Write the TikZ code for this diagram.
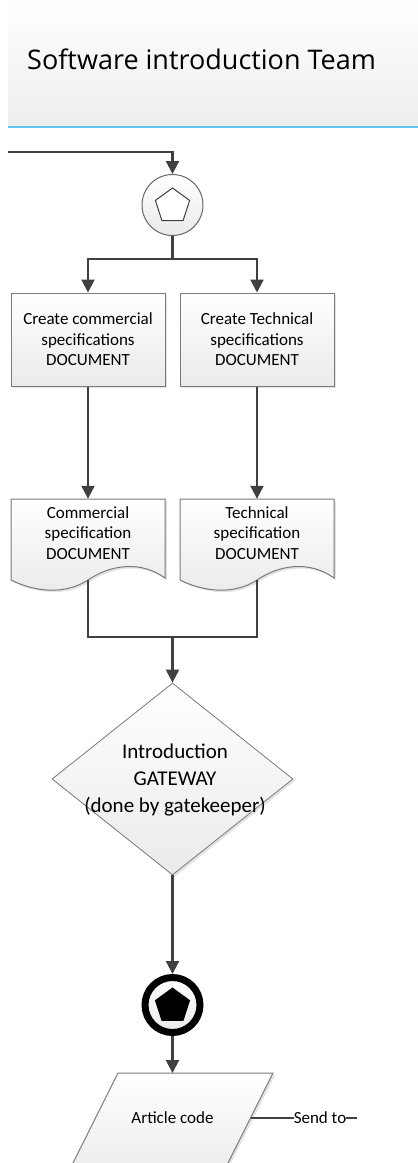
\documentclass[tikz,border=0pt]{standalone}
\usepackage{fontspec}
\setmainfont{Carlito}
\newfontfamily\headfont{Open Sans}
\usetikzlibrary{arrows.meta,shapes.geometric,shadows}
\definecolor{flow}{HTML}{404040}
\definecolor{edge}{HTML}{7A7A7A}
\definecolor{shadeend}{HTML}{EAEAEA}
\definecolor{lane}{HTML}{62C4EE}
\tikzset{
  conn/.style={draw=flow, line width=2.2pt},
  arr/.style={conn, -{Triangle[length=13pt,width=13pt]}},
  softshadow/.style={drop shadow={opacity=0.22, shadow xshift=2pt, shadow yshift=-2pt}},
  boxfill/.style={draw=edge, line width=1pt, top color=white, bottom color=shadeend},
  taskbox/.style={boxfill, softshadow, rectangle, minimum width=154pt, minimum height=93pt,
    inner sep=0pt, align=center, font=\fontsize{17}{20.5}\selectfont},
  doctext/.style={align=center, inner sep=0pt, font=\fontsize{17}{20.5}\selectfont},
  docpic/.pic={
    \path[boxfill, softshadow] (-77,-40.5) -- (77,-40.5) -- (77,38.5)
      .. controls (52,20.5) and (22,25.5) .. (0,40.5)
      .. controls (-23,55.5) and (-53,52.5) .. (-77,40.5) -- cycle;
  },
}
\begin{document}
\begin{tikzpicture}[x=1pt, y=-1pt]
\useasboundingbox (0,0) rectangle (418,1163);
\clip (0,0) rectangle (418,1163);

% lane header
\fill[top color=white, bottom color=shadeend!85!white] (8,0) rectangle (418,126);
\draw[lane, line width=2pt] (8,127) -- (418,127);
\node[anchor=base west, inner sep=0pt, font=\headfont\fontsize{27}{32}\selectfont]
  (lanetitle) at (27,69) {Software introduction Team};

% start event
\node[circle, draw=flow!80, line width=1pt, top color=white, bottom color=shadeend,
  minimum size=61pt, inner sep=0pt] (start) at (172.5,205) {};
\node[regular polygon, regular polygon sides=5, draw=flow, line width=1pt, fill=white,
  minimum size=36pt, inner sep=0pt] (startmark) at (172.5,206) {};
\coordinate (incoming) at (8,152);
\draw[arr] (incoming) -| (start.north);

% parallel tasks
\coordinate (split) at (172.5,259);
\node[taskbox] (cbox) at (88,339.5) {Create commercial\\specifications\\DOCUMENT};
\node[taskbox] (tbox) at (257,339.5) {Create Technical\\specifications\\DOCUMENT};
\draw[conn] (start.south) -- (split);
\draw[arr] (split) -| (cbox.north);
\draw[arr] (split) -| (tbox.north);

% resulting documents
\pic at (88,539.5) {docpic};
\pic at (257,539.5) {docpic};
\node[minimum width=154pt, minimum height=81pt, inner sep=0pt] (cdoc) at (88,539.5) {};
\node[minimum width=154pt, minimum height=81pt, inner sep=0pt] (tdoc) at (257,539.5) {};
\node[doctext] (cdoctext) at (88,533) {Commercial\\specification\\DOCUMENT};
\node[doctext] (tdoctext) at (257,533) {Technical\\specification\\DOCUMENT};
\draw[arr] (cbox.south) -- (cdoc.north);
\draw[arr] (tbox.south) -- (tdoc.north);

% merge into gateway
\coordinate (merge) at (172.5,637);
\node[diamond, aspect=1.255, boxfill, softshadow, minimum width=241pt, minimum height=192pt,
  inner sep=0pt, line width=0.8pt] (gate) at (172.5,779) {};
\node[align=center, inner sep=0pt, font=\fontsize{21}{27}\selectfont]
  (gatetext) at (175,780) {Introduction\\GATEWAY\\(done by gatekeeper)};
\draw[conn] (cdoc.south) |- (merge);
\draw[conn] (tdoc.south) |- (merge);
\draw[arr] (merge) -- (gate.north);

% end event
\node[circle, draw=black, line width=7pt, top color=white, bottom color=shadeend,
  minimum size=55pt, inner sep=0pt] (finish) at (172.5,1005) {};
\node[regular polygon, regular polygon sides=5, fill=black,
  minimum size=37pt, inner sep=0pt] (finishmark) at (172.5,1006) {};
\draw[arr] (gate.south) -- (finish.north);

% article code output
\path[boxfill, softshadow] (118,1073) -- (273,1073) -- (228,1163) -- (218,1183)
  -- (63,1183) -- cycle;
\node[font=\fontsize{17}{20.5}\selectfont, inner sep=0pt] (article) at (172.5,1118) {Article code};
\coordinate (articletop) at (172.5,1073);
\coordinate (articleport) at (250.5,1118);
\coordinate (sendend) at (357,1118);
\node[font=\fontsize{17}{20.5}\selectfont, inner sep=0pt] (sendlabel) at (320,1118) {Send to};
\draw[arr] (finish.south) -- (articletop);
\draw[draw=flow, line width=1.5pt] (articleport) -- (sendlabel.west);
\draw[draw=flow, line width=1.5pt] (sendlabel.east) -- (sendend);
\end{tikzpicture}
\end{document}
